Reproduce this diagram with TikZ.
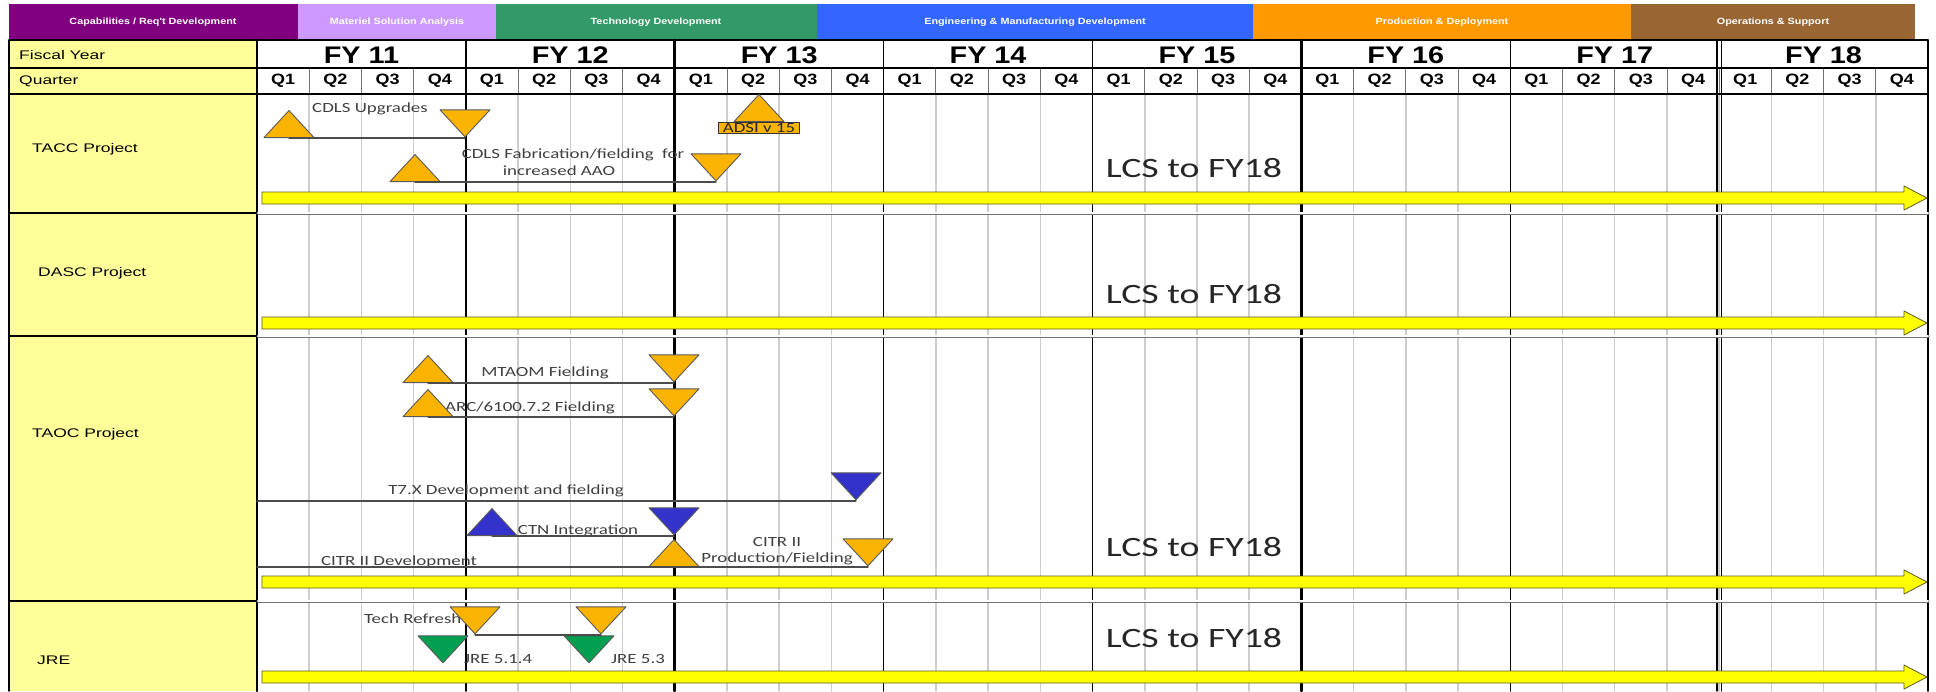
\documentclass[tikz,border=0pt]{standalone}
\usepackage{fontspec}
\setmainfont{Liberation Sans}
\newfontfamily\hdfont[FakeStretch=1.2]{Liberation Sans}
\newfontfamily\rowfont[FakeStretch=1.4]{Liberation Sans}
\newfontfamily\msfont[FakeStretch=1.35]{Carlito}
\usepackage{tikz}
\usetikzlibrary{shapes.geometric,positioning}

\definecolor{capPurple}{RGB}{128,0,128}
\definecolor{msaLilac}{RGB}{204,153,255}
\definecolor{tdGreen}{RGB}{51,153,102}
\definecolor{emdBlue}{RGB}{51,102,255}
\definecolor{pdOrange}{RGB}{255,153,0}
\definecolor{osBrown}{RGB}{153,102,51}
\definecolor{rowYellow}{RGB}{255,255,153}
\definecolor{msGold}{RGB}{250,180,0}
\definecolor{msBlue}{RGB}{51,51,204}
\definecolor{msGreen}{RGB}{0,160,80}
\definecolor{lcsYellow}{RGB}{255,255,0}
\definecolor{gridGray}{RGB}{205,205,205}
\definecolor{txtGray}{RGB}{64,64,64}

\begin{document}
\begin{tikzpicture}[
    x=1pt, y=-1pt,
    line cap=round,
    line join=round,
    phase/.style={text=white, font=\hdfont\bfseries\fontsize{9}{10}\selectfont},
    fylabel/.style={font=\hdfont\bfseries\fontsize{24}{26}\selectfont},
    qlabel/.style={font=\hdfont\bfseries\fontsize{15}{16}\selectfont},
    rowlabel/.style={anchor=west, inner sep=0pt, font=\rowfont\fontsize{12.5}{14}\selectfont},
    mslabel/.style={inner sep=1pt, text=txtGray, font=\msfont\fontsize{14}{16}\selectfont},
    lcslabel/.style={text=black!85, font=\msfont\fontsize{28}{30}\selectfont},
    adsibox/.style={draw=black!80, line width=1pt, fill=msGold, inner xsep=4pt, inner ysep=1pt,
        text=black!85, font=\msfont\fontsize{14}{15}\selectfont},
    msup/.style={isosceles triangle, isosceles triangle stretches, rotate=90, anchor=west,
        minimum width=50pt, minimum height=27pt, inner sep=0pt, draw=black!65, line width=0.9pt},
    msdown/.style={isosceles triangle, isosceles triangle stretches, rotate=-90, anchor=apex,
        minimum width=50pt, minimum height=27pt, inner sep=0pt, draw=black!65, line width=0.9pt},
    msline/.style={draw=black!70, line width=1.1pt},
    rowsep/.style={draw=black!55, double=white, double distance=1.6pt, line width=0.7pt},
    lcsarrow/.style={fill=lcsYellow, draw=black!45!olive, line width=0.8pt}
]

\useasboundingbox (0,0) rectangle (1936,691);
\fill[white] (0,0) rectangle (1936,691);

%------------------------------------------------
% Acquisition phases
%------------------------------------------------
\fill[capPurple] (9,4) rectangle (298,40);
\fill[msaLilac] (298,4) rectangle (496,40);
\fill[tdGreen] (496,4) rectangle (817,40);
\fill[emdBlue] (817,4) rectangle (1253,40);
\fill[pdOrange] (1253,4) rectangle (1631,40);
\fill[osBrown] (1631,4) rectangle (1915,40);

\node[phase] (phCap) at (153,22) {Capabilities / Req't Development};
\node[phase] (phMsa) at (397,22) {Materiel Solution Analysis};
\node[phase] (phTd) at (656,22) {Technology Development};
\node[phase] (phEmd) at (1035,22) {Engineering \& Manufacturing Development};
\node[phase] (phPd) at (1442,22) {Production \& Deployment};
\node[phase] (phOs) at (1773,22) {Operations \& Support};

%------------------------------------------------
% Label column
%------------------------------------------------
\fill[rowYellow] (9,40) rectangle (257,691);

%------------------------------------------------
% Quarter grid
%------------------------------------------------
\foreach \k in {1,...,31}
    \draw[gridGray, line width=1.5pt] ({257+52.22*\k},94) -- ({257+52.22*\k},691);
\foreach \k in {1,...,31}
    \draw[black!55, line width=0.8pt] ({257+52.22*\k},68) -- ({257+52.22*\k},94);

%------------------------------------------------
% Year lines
%------------------------------------------------
\foreach \j/\w in {0/2.8pt,1/1.4pt,2/2.8pt,3/1.4pt,4/1.4pt,5/2.8pt,6/1.4pt,8/1.4pt}
    \draw[line width=\w] ({257+208.875*\j},40) -- ({257+208.875*\j},691);
\draw[line width=1.2pt] (1717,40) -- (1717,691);
\draw[line width=1.2pt] (1721.5,40) -- (1721.5,691);

%------------------------------------------------
% Header and row borders
%------------------------------------------------
\draw[line width=1.4pt] (9,40) -- (1928,40);
\draw[line width=1.2pt] (9,68) -- (1928,68);
\draw[line width=1.4pt] (9,94) -- (1928,94);
\draw[line width=1.4pt] (9,40) -- (9,691);

\foreach \ys in {213,336,601} {
    \draw[line width=1.2pt] (9,\ys) -- (257,\ys);
    \draw[rowsep] (258,\ys) -- (1928,\ys);
}

%------------------------------------------------
% Fiscal years and quarters
%------------------------------------------------
\foreach \yr [count=\j from 0] in {11,...,18} {
    \node[fylabel] (fy\yr) at ({257+208.875*(\j+0.5)},55) {FY \yr};
    \foreach \q in {1,...,4}
        \node[qlabel] (q\yr\q) at ({257+208.875*\j+52.22*(\q-0.5)},81) {Q\q};
}

%------------------------------------------------
% Row labels
%------------------------------------------------
\node[rowlabel] (rowFY) at (19,55) {Fiscal Year};
\node[rowlabel] (rowQ) at (19,81) {Quarter};
\node[rowlabel] (rowTACC) at (32,149) {TACC Project};
\node[rowlabel] (rowDASC) at (38,273) {DASC Project};
\node[rowlabel] (rowTAOC) at (32,434) {TAOC Project};
\node[rowlabel] (rowJRE) at (37,660) {JRE};

%------------------------------------------------
% LCS arrows
%------------------------------------------------
\foreach \ya in {198,323,582,677}
    \draw[lcsarrow] (262,{\ya-6}) -- (1904,{\ya-6}) -- (1904,{\ya-12})
        -- (1927,\ya) -- (1904,{\ya+12}) -- (1904,{\ya+6}) -- (262,{\ya+6}) -- cycle;

\node[lcslabel] (lcsTACC) at (1194,168) {LCS to FY18};
\node[lcslabel] (lcsDASC) at (1194,294) {LCS to FY18};
\node[lcslabel] (lcsTAOC) at (1194,547) {LCS to FY18};
\node[lcslabel] (lcsJRE) at (1194,638) {LCS to FY18};

%------------------------------------------------
% Milestone labels
%------------------------------------------------
\node[mslabel] (cdlsTxt) at (370,109) {CDLS Upgrades};
\node[mslabel] (fabTxt) at (573,155) {CDLS Fabrication/fielding\ \ for};
\node[mslabel] (aaoTxt) at (559,171) {increased AAO};
\node[mslabel] (mtaomTxt) at (545,373) {MTAOM Fielding};
\node[mslabel] (arcTxt) at (530,408) {ARC/6100.7.2 Fielding};
\node[mslabel] (t7Txt) at (506,491) {T7.X Development and fielding};
\node[mslabel] (ctnTxt) at (578,531) {CTN Integration};
\node[mslabel] (citrTxt) at (399,562) {CITR II Development};
\node[mslabel, align=center] (prodTxt) at (777,551) {CITR II\\Production/Fielding};
\node[mslabel, anchor=west] (techTxt) at (363,619) {Tech Refresh};
\node[mslabel, anchor=west] (jreATxt) at (463,659) {JRE 5.1.4};
\node[mslabel, anchor=west] (jreBTxt) at (610,659) {JRE 5.3};

%------------------------------------------------
% Milestones
%------------------------------------------------
% TACC
\node[msup, fill=msGold] (cdlsA) at (289,138) {};
\node[msdown, fill=msGold] (cdlsB) at (465,138) {};
\node[msup, fill=msGold] (fabA) at (415,182) {};
\node[msdown, fill=msGold] (fabB) at (716,182) {};
\node[msup, fill=msGold] (adsiA) at (759,122) {};
\node[adsibox, below=0pt of adsiA.west] (adsiTxt) {ADSI v 15};

% TAOC
\node[msup, fill=msGold] (mtaomA) at (428,383) {};
\node[msdown, fill=msGold] (mtaomB) at (674,383) {};
\node[msup, fill=msGold] (arcA) at (428,417) {};
\node[msdown, fill=msGold] (arcB) at (674,417) {};
\coordinate (t7Start) at (257,501);
\node[msdown, fill=msBlue] (t7B) at (856,501) {};
\node[msup, fill=msBlue] (ctnA) at (492,536) {};
\node[msdown, fill=msBlue] (ctnB) at (674,536) {};
\coordinate (citrStart) at (257,567);
\node[msup, fill=msGold] (citrA) at (674,567) {};
\node[msdown, fill=msGold] (citrB) at (868,567) {};

% JRE
\node[msdown, fill=msGold] (techA) at (475,635) {};
\node[msdown, fill=msGold] (techB) at (601,635) {};
\node[msdown, fill=msGreen] (jreA) at (443,664) {};
\node[msdown, fill=msGreen] (jreB) at (589,664) {};

%------------------------------------------------
% Milestone connectors
%------------------------------------------------
\draw[msline] (cdlsA.west) -- (cdlsB.apex);
\draw[msline] (fabA.west) -- (fabB.apex);
\draw[msline] (mtaomA.west) -- (mtaomB.apex);
\draw[msline] (arcA.west) -- (arcB.apex);
\draw[msline] (t7Start) -- (t7B.apex);
\draw[msline] (ctnA.west) -- (ctnB.apex);
\draw[msline] (citrStart) -- (citrA.west) -- (citrB.apex);
\draw[msline] (techA.apex) -- (techB.apex);

\end{tikzpicture}
\end{document}
